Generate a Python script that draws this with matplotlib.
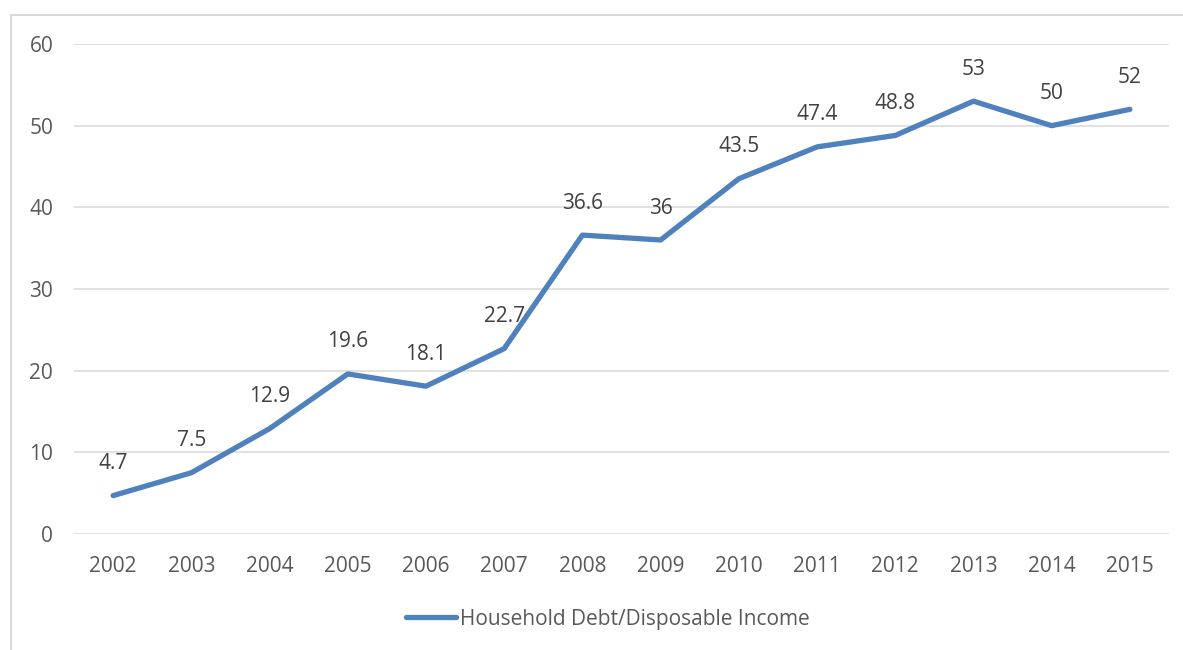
import matplotlib
matplotlib.use("Agg")
import matplotlib.pyplot as plt
from matplotlib.patches import Rectangle

years = ["2002", "2003", "2004", "2005", "2006", "2007", "2008",
         "2009", "2010", "2011", "2012", "2013", "2014", "2015"]
debt_ratio = [4.7, 7.5, 12.9, 19.6, 18.1, 22.7, 36.6,
              36, 43.5, 47.4, 48.8, 53, 50, 52]
value_labels = ["4.7", "7.5", "12.9", "19.6", "18.1", "22.7", "36.6",
                "36", "43.5", "47.4", "48.8", "53", "50", "52"]
y_ticks = [0, 10, 20, 30, 40, 50, 60]

LINE_COLOR = "#4f81bd"
TEXT_COLOR = "#595959"
GRID_COLOR = "#d9d9d9"
FS = 15

plt.rcParams["font.family"] = ["Open Sans", "DejaVu Sans"]

W, H = 1183, 650
fig = plt.figure(figsize=(W / 100, H / 100), dpi=100)
ax = fig.add_axes([74 / W, (H - 534) / H, (1169 - 74) / W, (534 - 44) / H])

# outer chart border (only top/left visible in the original crop)
fig.patches.append(Rectangle((11 / W, -0.1), 1.2, (H - 15) / H + 0.1,
                             transform=fig.transFigure, fill=False,
                             edgecolor=GRID_COLOR, linewidth=1.5))

x = range(len(years))
line, = ax.plot(x, debt_ratio, color=LINE_COLOR, linewidth=3.8,
                solid_capstyle="round", solid_joinstyle="round",
                label="Household Debt/Disposable Income", zorder=3)

for xi, yi, lab in zip(x, debt_ratio, value_labels):
    ax.annotate(lab, (xi, yi), xytext=(0, 23), textcoords="offset points",
                ha="center", va="center", fontsize=FS, color="#404040")

ax.set_xlim(-0.5, len(years) - 0.5)
ax.set_ylim(0, 60)
ax.set_yticks(y_ticks)
ax.set_xticks(list(x))
ax.set_xticklabels(years)
ax.tick_params(axis="both", length=0, labelsize=FS, labelcolor=TEXT_COLOR)
ax.tick_params(axis="y", pad=15)
ax.tick_params(axis="x", pad=16)
ax.grid(axis="y", color=GRID_COLOR, linewidth=1.1)
ax.set_axisbelow(True)
for s in ax.spines.values():
    s.set_visible(False)

fig.legend(handles=[line], loc="center", bbox_to_anchor=(608 / W, 1 - 619 / H),
           frameon=False, fontsize=FS, labelcolor=TEXT_COLOR,
           handlelength=2.4, handletextpad=0.2)

fig.savefig("out.png", dpi=100, facecolor="white")
